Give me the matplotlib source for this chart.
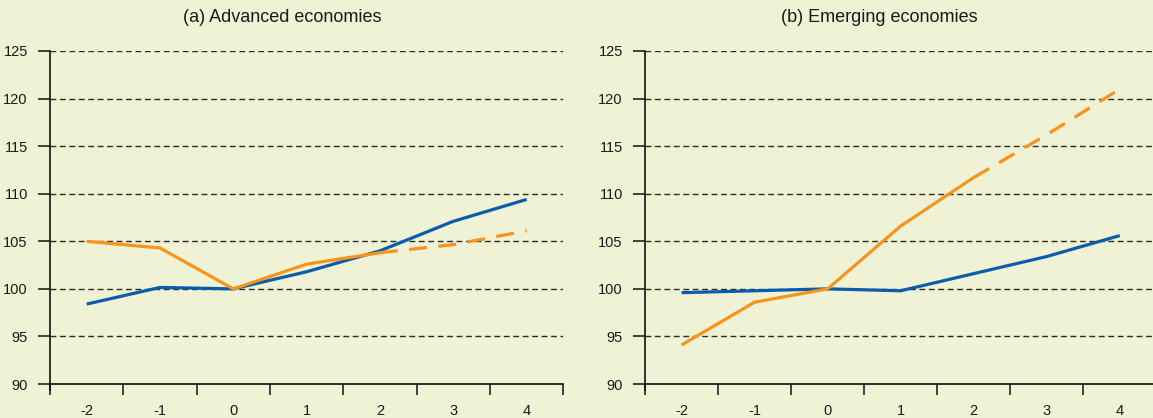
import matplotlib
matplotlib.use("Agg")
import matplotlib.pyplot as plt
import numpy as np

# Years relative to the event (t = 0 indexed to 100)
years = [-2, -1, 0, 1, 2, 3, 4]

adv_blue = [98.4, 100.15, 100.0, 101.8, 104.0, 107.1, 109.4]
adv_orange = [105.0, 104.3, 100.0, 102.6, 103.8, 104.65, 106.1]

emg_blue = [99.6, 99.8, 100.0, 99.8, 101.6, 103.4, 105.6]
emg_orange = [94.1, 98.6, 100.0, 106.6, 111.7, 116.2, 121.0]

# Index of the first projected (dashed) year
proj_start = 4

titles = ["(a) Advanced economies", "(b) Emerging economies"]
y_ticks = [90, 95, 100, 105, 110, 115, 120, 125]

BG = "#eff2d4"
BLUE = "#0a5cad"
ORANGE = "#f7941d"
TXT = "#1a1a1a"

plt.rcParams["font.family"] = ["Liberation Sans", "DejaVu Sans"]

W, H = 1153, 418
fig = plt.figure(figsize=(W / 100, H / 100), dpi=100, facecolor=BG)

ax_top_px, ax_bot_px = 51, 390.2
panels = [
    dict(left=50, right=563.3, blue=adv_blue, orange=adv_orange, title_x=282),
    dict(left=645, right=1156.3, blue=emg_blue, orange=emg_orange, title_x=879),
]

for p, title in zip(panels, titles):
    ax = fig.add_axes([p["left"] / W, (H - ax_bot_px) / H,
                       (p["right"] - p["left"]) / W, (ax_bot_px - ax_top_px) / H])
    ax.set_facecolor(BG)
    ax.set_xlim(-2.5, 4.5)
    ax.set_ylim(89.35, 125)

    for y in y_ticks[1:]:
        ax.axhline(y, color="#2b2b2b", lw=1.0, dashes=(4.2, 2.6), zorder=1)

    ax.plot(years, p["blue"], color=BLUE, lw=2.3, zorder=3, solid_capstyle="butt")
    ax.plot(years[:proj_start + 1], p["orange"][:proj_start + 1], color=ORANGE,
            lw=2.3, zorder=3, solid_capstyle="butt")
    ax.plot(years[proj_start:], p["orange"][proj_start:], color=ORANGE,
            lw=2.3, zorder=3, dashes=(5.6, 3.6), dash_capstyle="butt")

    for side in ("top", "right"):
        ax.spines[side].set_visible(False)
    ax.spines["bottom"].set_position(("data", 90))
    for side in ("left", "bottom"):
        ax.spines[side].set_color("#111111")
        ax.spines[side].set_linewidth(1.2)

    ax.set_yticks(y_ticks)
    ax.set_yticklabels([str(v) for v in y_ticks])
    ax.tick_params(axis="y", direction="out", length=9, width=1.1,
                   color="#111111", labelsize=10.5, labelcolor=TXT, pad=7)

    ax.set_xticks(np.arange(-2.5, 4.6, 1.0))
    ax.set_xticklabels([])
    ax.set_xticks(years, minor=True)
    ax.set_xticklabels([str(v) for v in years], minor=True)
    ax.tick_params(axis="x", which="major", direction="out", length=8,
                   width=1.1, color="#111111")
    ax.tick_params(axis="x", which="minor", length=0, labelsize=10.5,
                   labelcolor=TXT, pad=14.5)

    fig.text(p["title_x"] / W, 1 - 17 / H, title, ha="center", va="center",
             fontsize=13, color=TXT)

fig.savefig("out.png", dpi=100, facecolor=BG)
